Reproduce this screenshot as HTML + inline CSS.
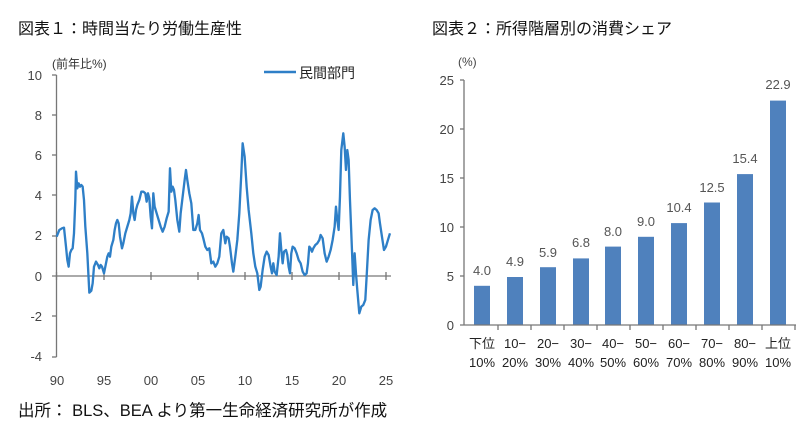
<!DOCTYPE html>
<html><head><meta charset="utf-8"><style>
body{margin:0;background:#fff;width:806px;height:426px;overflow:hidden}
svg text{font-family:"Liberation Sans","Noto Sans CJK JP",sans-serif}
</style></head><body>
<svg width="806" height="426" viewBox="0 0 806 426" xmlns="http://www.w3.org/2000/svg">
<text x="18" y="34" font-size="16" fill="#111">図表１：時間当たり労働生産性</text>
<text x="432" y="34" font-size="16" fill="#111">図表２：所得階層別の消費シェア</text>
<text x="18" y="416" font-size="16.5" fill="#111">出所： BLS、BEA より第一生命経済研究所が作成</text>
<!-- left chart -->
<text x="52" y="68" font-size="12" fill="#333">(前年比%)</text>
<line x1="264" y1="72" x2="296" y2="72" stroke="#2e7fc7" stroke-width="2.5"/>
<text x="299" y="78" font-size="14" fill="#222">民間部門</text>
<g font-size="13" fill="#444" text-anchor="end">
<text x="42" y="80">10</text><text x="42" y="120">8</text><text x="42" y="160">6</text><text x="42" y="200">4</text><text x="42" y="240">2</text><text x="42" y="281">0</text><text x="42" y="321">-2</text><text x="42" y="361">-4</text>
</g>
<g stroke="#777" stroke-width="1.3">
<line x1="56.5" y1="75" x2="56.5" y2="357"/>
<line x1="52" y1="75" x2="56.5" y2="75"/><line x1="52" y1="115" x2="56.5" y2="115"/><line x1="52" y1="155" x2="56.5" y2="155"/><line x1="52" y1="195" x2="56.5" y2="195"/><line x1="52" y1="236" x2="56.5" y2="236"/><line x1="52" y1="316" x2="56.5" y2="316"/><line x1="52" y1="357" x2="56.5" y2="357"/>
<line x1="52" y1="276" x2="391" y2="276"/>
<line x1="56.5" y1="272" x2="56.5" y2="280"/><line x1="104" y1="272" x2="104" y2="280"/><line x1="151" y1="272" x2="151" y2="280"/><line x1="198" y1="272" x2="198" y2="280"/><line x1="245" y1="272" x2="245" y2="280"/><line x1="292" y1="272" x2="292" y2="280"/><line x1="339" y1="272" x2="339" y2="280"/><line x1="386" y1="272" x2="386" y2="280"/>
</g>
<g font-size="13" fill="#444" text-anchor="middle">
<text x="57" y="385">90</text><text x="104" y="385">95</text><text x="151" y="385">00</text><text x="198" y="385">05</text><text x="245" y="385">10</text><text x="292" y="385">15</text><text x="339" y="385">20</text><text x="386" y="385">25</text>
</g>
<g transform="scale(0.3333)">
<polyline fill="none" stroke="#2e7fc7" stroke-width="7" stroke-linejoin="round" points="170,710 178,690 186,685 192,683 198,740 202,780 206,800 210,760 214,750 218,745 222,700 226,600 228,515 232,565 236,550 240,560 244,555 248,560 252,600 256,680 262,760 268,878 274,872 278,850 282,800 288,785 294,795 298,805 302,795 306,800 312,820 318,790 322,770 326,760 330,770 334,740 340,720 344,690 348,670 352,660 356,670 360,710 366,745 370,730 376,700 382,680 388,660 392,640 396,590 400,640 404,660 408,630 412,615 418,600 424,575 430,575 436,580 440,605 444,580 448,595 452,650 456,685 460,580 464,620 470,640 476,660 482,680 488,695 494,680 500,655 506,635 510,505 514,575 518,560 522,570 526,600 532,660 538,695 542,640 548,590 554,540 558,510 562,540 568,580 574,610 580,690 586,690 592,670 596,645 600,690 606,700 610,715 616,740 622,750 628,745 634,790 640,785 646,800 652,790 658,770 664,700 670,690 676,730 680,710 686,715 690,740 696,790 700,815 706,770 712,720 718,640 724,520 728,430 734,470 740,560 746,630 754,700 760,760 766,800 772,820 778,870 782,860 788,810 794,770 800,755 806,765 812,800 816,820 820,790 824,815 830,825 836,770 840,700 844,750 848,790 852,755 858,750 862,765 866,800 870,820 874,760 878,740 884,745 890,760 896,780 902,790 908,815 914,825 920,820 924,790 928,740 932,745 936,755 940,745 946,735 952,730 958,720 962,705 968,715 974,760 980,785 986,770 992,750 998,720 1004,680 1008,620 1012,660 1016,690 1020,590 1024,450 1030,400 1034,440 1038,510 1042,450 1046,480 1050,600 1056,750 1060,855 1064,760 1068,820 1072,870 1078,940 1084,920 1090,915 1096,900 1100,830 1106,720 1112,660 1118,630 1124,625 1130,630 1136,640 1140,670 1146,710 1152,750 1158,740 1164,720 1170,700"/>
</g>
<!-- right chart -->
<text x="458" y="66" font-size="12" fill="#444">(%)</text>
<g font-size="13" fill="#444" text-anchor="end">
<text x="454" y="85">25</text><text x="454" y="134">20</text><text x="454" y="183">15</text><text x="454" y="232">10</text><text x="454" y="281">5</text><text x="454" y="330">0</text>
</g>
<g fill="#4f81bd">
<rect x="474" y="285.8" width="16" height="39.2"/>
<rect x="507" y="277" width="16" height="48"/>
<rect x="540" y="267.2" width="16" height="57.8"/>
<rect x="573" y="258.4" width="16" height="66.6"/>
<rect x="605" y="246.6" width="16" height="78.4"/>
<rect x="638" y="236.8" width="16" height="88.2"/>
<rect x="671" y="223.1" width="16" height="101.9"/>
<rect x="704" y="202.5" width="16" height="122.5"/>
<rect x="737" y="174.1" width="16" height="150.9"/>
<rect x="770" y="100.6" width="16" height="224.4"/>
</g>
<g stroke="#777" stroke-width="1.3">
<line x1="464" y1="80" x2="464" y2="325"/>
<line x1="460" y1="80" x2="464" y2="80"/><line x1="460" y1="129" x2="464" y2="129"/><line x1="460" y1="178" x2="464" y2="178"/><line x1="460" y1="227" x2="464" y2="227"/><line x1="460" y1="276" x2="464" y2="276"/>
<line x1="460" y1="325" x2="796" y2="325"/>
<line x1="498" y1="325" x2="498" y2="330"/><line x1="531" y1="325" x2="531" y2="330"/><line x1="564" y1="325" x2="564" y2="330"/><line x1="597" y1="325" x2="597" y2="330"/><line x1="630" y1="325" x2="630" y2="330"/><line x1="663" y1="325" x2="663" y2="330"/><line x1="696" y1="325" x2="696" y2="330"/><line x1="729" y1="325" x2="729" y2="330"/><line x1="762" y1="325" x2="762" y2="330"/><line x1="795" y1="325" x2="795" y2="330"/>
</g>
<g font-size="13" fill="#555" text-anchor="middle">
<text x="482" y="275">4.0</text><text x="515" y="266">4.9</text><text x="548" y="257">5.9</text><text x="581" y="247">6.8</text><text x="613" y="236">8.0</text><text x="646" y="226">9.0</text><text x="679" y="212">10.4</text><text x="712" y="192">12.5</text><text x="745" y="163">15.4</text><text x="778" y="89">22.9</text>
</g>
<g font-size="13" fill="#222" text-anchor="middle">
<text x="482" y="348">下位</text><text x="482" y="367">10%</text>
<text x="515" y="348">10−</text><text x="515" y="367">20%</text>
<text x="548" y="348">20−</text><text x="548" y="367">30%</text>
<text x="581" y="348">30−</text><text x="581" y="367">40%</text>
<text x="613" y="348">40−</text><text x="613" y="367">50%</text>
<text x="646" y="348">50−</text><text x="646" y="367">60%</text>
<text x="679" y="348">60−</text><text x="679" y="367">70%</text>
<text x="712" y="348">70−</text><text x="712" y="367">80%</text>
<text x="745" y="348">80−</text><text x="745" y="367">90%</text>
<text x="778" y="348">上位</text><text x="778" y="367">10%</text>
</g>
</svg>
</body></html>
